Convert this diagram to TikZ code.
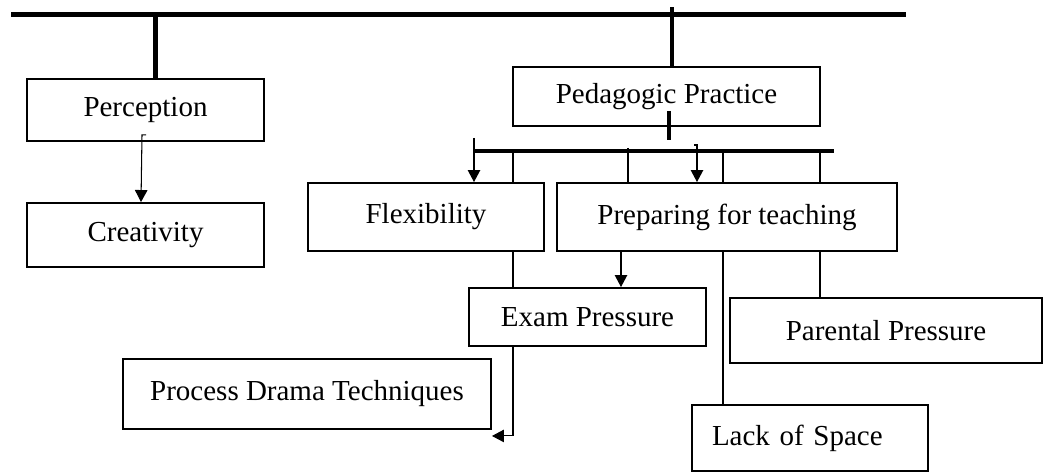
\documentclass[tikz,border=0pt]{standalone}
\usepackage{fontspec}
\setmainfont{Liberation Serif}
\usetikzlibrary{arrows.meta}

\begin{document}
\begin{tikzpicture}[box/.style={draw, fill=white, line width=1.1pt, inner sep=0pt, align=center, font=\fontsize{16.5}{19}\selectfont},
    bar/.style={line width=2.8pt},
    link/.style={line width=0.6pt},
    arr/.style={link, -{Triangle[length=0.24cm, width=0.25cm]}}]
    \useasboundingbox (0,0) rectangle (20.9,9.44);

    % main bar and its two branches
    \coordinate (TL) at (0.22,9.15);
    \coordinate (TR) at (18.12,9.15);
    \draw[bar] (TL) -- (TR);

    \node[box, minimum width=4.74cm, minimum height=1.24cm] at (2.91,7.24) (P) {Perception};
    \node[box, minimum width=4.74cm, minimum height=1.28cm] at (2.91,4.74) (C) {Creativity};
    \node[box, minimum width=6.14cm, minimum height=1.18cm] at (13.33,7.51) (PP) {Pedagogic Practice};

    \draw[bar] ([xshift=0.2cm]P.north) -- ([xshift=0.2cm]P.north |- TL);
    \draw[bar] ([xshift=0.11cm]PP.north) -- ([xshift=0.11cm, yshift=0.15cm]PP.north |- TL);
    \draw[arr] ([xshift=0.01cm, yshift=0.14cm]P.south) -- ++(-0.08,0) -- ([xshift=-0.09cm]C.north);

    % second bar under Pedagogic Practice
    \coordinate (BL) at (9.48,6.42);
    \coordinate (BR) at (16.68,6.42);
    \draw[bar, line width=2.3pt] (BL) -- (BR);
    \draw[bar] ([xshift=0.05cm, yshift=0.32cm]PP.south) -- ([xshift=0.05cm, yshift=-0.26cm]PP.south);

    \node[box, minimum width=4.72cm, minimum height=1.36cm] at (8.52,5.10) (F) {Flexibility};
    \node[box, minimum width=6.80cm, minimum height=1.36cm] at (14.54,5.10) (T) {Preparing for teaching};
    \node[box, minimum width=4.74cm, minimum height=1.16cm] at (11.75,3.10) (E) {Exam Pressure};
    \node[box, minimum width=6.24cm, minimum height=1.30cm] at (17.72,2.83) (PR) {Parental Pressure};
    \node[box, minimum height=1.32cm, text width=3.92cm, inner xsep=0.4cm, align=left] at (16.20,0.68) (L) {Lack of Space};
    \node[box, minimum width=7.36cm, minimum height=1.40cm] at (6.14,1.56) (D) {Process Drama Techniques};

    \draw[arr] ([yshift=0.26cm]BL) -- (BL |- F.north);

    \coordinate (x1) at (10.26,6.42);
    \draw[link] (x1) -- (x1 |- F.north);
    \draw[link] (x1 |- F.south) -- (x1 |- E.north);
    \draw[arr] (x1 |- E.south) |- ([yshift=-0.12cm]D.south east);

    \coordinate (x2) at (12.56,6.48);
    \draw[link] (x2) -- (x2 |- T.north);

    \coordinate (x3) at (13.94,6.54);
    \draw[arr] ([xshift=-0.06cm]x3) -- (x3) -- (x3 |- T.north);

    \coordinate (x4) at (14.46,6.42);
    \draw[link] (x4) -- (x4 |- T.north);
    \draw[link] (x4 |- T.south) -- (x4 |- L.north);

    \coordinate (x5) at (16.40,6.42);
    \draw[link] (x5) -- (x5 |- T.north);
    \draw[link] (x5 |- T.south) -- (x5 |- PR.north);

    \draw[arr] ([xshift=-2.12cm]T.south) -- ([xshift=-2.12cm]T.south |- E.north);

\end{tikzpicture}
\end{document}
